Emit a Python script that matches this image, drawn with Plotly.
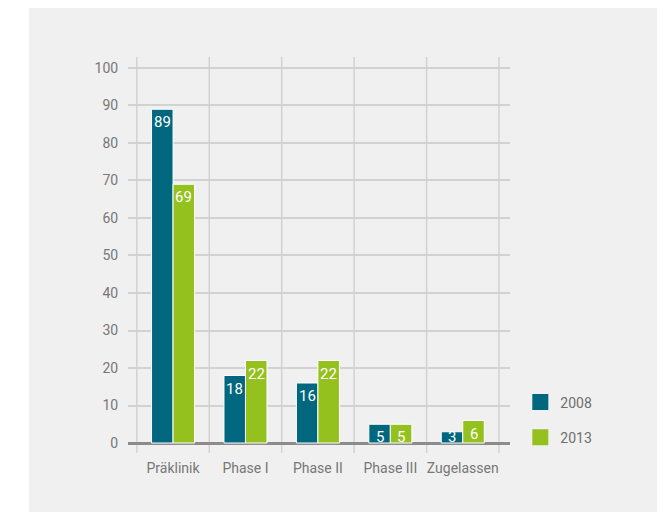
import plotly.graph_objects as go

categories = ["Präklinik", "Phase I", "Phase II", "Phase III", "Zugelassen"]
values_2008 = [89, 18, 16, 5, 3]
values_2013 = [69, 22, 22, 5, 6]
series_names = ["2008", "2013"]
colors = ["#00677f", "#95c11f"]
y_ticks = [0, 10, 20, 30, 40, 50, 60, 70, 80, 90, 100]

xpos = list(range(len(categories)))
FONT = "Roboto"

# figure coords (page has 8px body margin)
L, R, T, B = 120, 502, 49, 445
W, H = 658, 505
PW, PH = R - L, B - T
Y0, Y1 = -2.667, 102.93
PX_PER_UNIT = PH / (Y1 - Y0)
BARGAP = 0.406
BAR_W = (1 - BARGAP) / 2

fig = go.Figure()
for name, vals, col in zip(series_names, [values_2008, values_2013], colors):
    fig.add_trace(go.Bar(
        x=xpos, y=vals, name=name, showlegend=False,
        marker=dict(color=col, line=dict(color="white", width=1)),
        cliponaxis=False,
    ))
# value labels
for k, vals in enumerate([values_2008, values_2013]):
    off = (k - 0.5) * BAR_W
    for i, v in enumerate(vals):
        if v * PX_PER_UNIT < 16:
            fig.add_annotation(x=i + off, y=v / 2, xref="x", yref="y",
                               text=str(v), showarrow=False, yanchor="middle",
                               font=dict(color="white", size=15, family=FONT))
        else:
            fig.add_annotation(x=i + off, y=v, xref="x", yref="y",
                               text=str(v), showarrow=False, yanchor="top",
                               yshift=-2,
                               font=dict(color="white", size=15, family=FONT))
# legend proxies
for name, col in zip(series_names, colors):
    fig.add_trace(go.Scatter(
        x=[None], y=[None], mode="markers", name=name,
        marker=dict(symbol="square", size=16, color=col),
        legendgroup=name,
    ))

# grey panel background
fig.add_shape(type="rect", xref="paper", yref="paper",
              x0=(21 - L) / PW, x1=(649 - L) / PW,
              y0=(B - 504) / PH, y1=(B - 0) / PH,
              fillcolor="#f0f0f0", line=dict(width=0), layer="below")

# vertical category separators
for i in range(len(categories) + 1):
    fig.add_shape(type="line", xref="x", yref="paper",
                  x0=i - 0.5, x1=i - 0.5, y0=0, y1=1,
                  line=dict(color="#d2d2d2", width=1.5), layer="below")

fig.update_layout(
    width=W, height=H,
    margin=dict(l=L, r=W - R, t=T, b=H - B),
    paper_bgcolor="white", plot_bgcolor="rgba(0,0,0,0)",
    barmode="group", bargap=BARGAP, bargroupgap=0,
    font=dict(family=FONT, size=14, color="#777777"),
    showlegend=True,
    legend=dict(x=1.027, y=0.168, xanchor="left", yanchor="top",
                bgcolor="rgba(0,0,0,0)", font=dict(size=14, color="#6e6e6e"),
                tracegroupgap=14, itemwidth=30),
    xaxis=dict(range=[-0.622, 4.652], tickvals=xpos, ticktext=categories,
               showgrid=False, zeroline=False, showline=False,
               ticks="outside", ticklen=2, tickcolor="rgba(0,0,0,0)",
               tickfont=dict(size=14, color="#777777"), fixedrange=True),
    yaxis=dict(range=[Y0, Y1], tickvals=y_ticks,
               showgrid=True, gridcolor="#d2d2d2", gridwidth=1.5,
               zeroline=True, zerolinecolor="#8c8c8c", zerolinewidth=3,
               showline=False, ticks="outside", ticklen=6,
               tickcolor="rgba(0,0,0,0)",
               tickfont=dict(size=14, color="#777777"), fixedrange=True),
)

fig.write_html("out.html")
